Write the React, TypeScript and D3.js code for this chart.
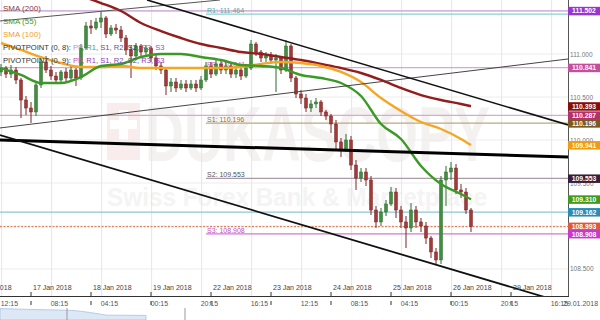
import React from 'react';
import * as d3 from 'd3';

// ---------- DATA ----------
// time unit: trading hours since 16 Jan 2018 00:00 (weekend removed)
const candleStartHour = 12;
const candleStepHours = 2;

const opens = [110.791,110.837,110.767,110.814,110.698,110.465,110.372,110.326,110.640,110.907,
110.814,110.744,110.698,110.791,110.721,110.814,110.721,111.070,111.326,111.302,
111.372,111.419,111.233,111.302,111.279,111.186,111.047,110.977,111.093,111.023,
111.070,110.954,110.861,110.814,110.628,110.674,110.605,110.651,110.605,110.651,
110.605,110.698,110.861,110.767,110.884,110.814,110.861,110.767,110.814,110.744,
110.837,111.116,111.023,110.954,110.977,110.930,110.954,110.814,111.093,110.721,
110.535,110.488,110.372,110.419,110.442,110.326,110.279,110.186,109.977,109.884,
110.000,109.709,109.558,109.628,109.535,109.186,109.047,109.163,109.256,109.395,
109.186,109.047,108.977,109.186,109.047,109.000,108.860,108.698,108.605,109.535,
109.628,109.674,109.419,109.395,109.186];
const highs = [110.884,110.861,110.872,110.849,110.721,110.512,110.442,110.674,110.954,110.977,
110.861,110.791,110.814,110.837,110.861,110.837,111.116,111.372,111.395,111.419,
111.488,111.442,111.337,111.349,111.326,111.221,111.093,111.128,111.116,111.105,
111.093,110.988,110.907,110.837,110.721,110.721,110.698,110.698,110.698,110.698,
110.744,110.907,110.907,110.930,110.930,110.907,110.907,110.861,110.861,110.884,
111.163,111.140,111.047,111.023,111.023,111.000,110.977,111.163,111.116,110.744,
110.581,110.535,110.465,110.488,110.465,110.349,110.302,110.233,110.023,110.070,
110.047,109.767,109.674,109.674,109.581,109.233,109.209,109.302,109.454,109.442,
109.233,109.116,109.267,109.233,109.093,109.047,108.884,108.744,109.581,109.698,
109.744,109.721,109.488,109.442,109.209];
const lows = [110.744,110.721,110.721,110.651,110.256,110.291,110.198,110.279,110.605,110.779,
110.698,110.651,110.674,110.674,110.698,110.628,110.698,111.047,111.233,111.279,
111.302,111.186,111.209,111.233,111.140,110.988,110.721,110.954,110.977,110.988,
110.907,110.814,110.767,110.523,110.558,110.558,110.581,110.558,110.581,110.558,
110.581,110.674,110.721,110.744,110.767,110.767,110.721,110.721,110.698,110.721,
110.814,110.977,110.907,110.907,110.884,110.558,110.767,110.791,110.674,110.488,
110.419,110.326,110.326,110.372,110.279,110.233,110.081,109.884,109.802,109.861,
109.651,109.419,109.512,109.465,109.128,108.977,109.000,109.116,109.233,109.093,
108.977,108.744,108.930,108.977,108.930,108.791,108.628,108.547,108.558,109.233,
109.535,109.372,109.326,109.140,108.930];
const closes = [110.837,110.767,110.814,110.698,110.465,110.372,110.326,110.640,110.907,110.814,
110.744,110.698,110.791,110.721,110.814,110.721,111.070,111.326,111.302,111.372,
111.419,111.233,111.302,111.279,111.186,111.047,110.977,111.093,111.023,111.070,
110.954,110.861,110.814,110.628,110.674,110.605,110.651,110.605,110.651,110.605,
110.698,110.861,110.767,110.884,110.814,110.861,110.767,110.814,110.744,110.837,
111.116,111.023,110.954,110.977,110.930,110.954,110.814,111.093,110.721,110.535,
110.488,110.372,110.419,110.442,110.326,110.279,110.186,109.977,109.884,110.000,
109.709,109.558,109.628,109.535,109.186,109.047,109.163,109.256,109.395,109.186,
109.047,108.977,109.186,109.047,109.000,108.860,108.698,108.605,109.535,109.628,
109.674,109.419,109.395,109.186,108.993];

const maHours = [12,20,28,36,44,52,60,68,76,84,92,100,108,116,124,132,140,148,156,164,172,180,188,196,200];
const sma55 = [110.837,110.756,110.663,110.663,110.733,110.861,110.884,110.965,111.000,111.000,
110.965,110.930,110.872,110.861,110.837,110.756,110.721,110.663,110.512,110.186,
110.012,109.698,109.488,109.372,109.310];
const sma100 = [111.128,111.047,110.965,110.895,110.849,110.849,110.861,110.837,110.837,110.837,
110.837,110.837,110.849,110.884,110.907,110.895,110.861,110.791,110.674,110.488,
110.337,110.209,110.128,110.012,109.941];
const sma200Hours = [44,52,60,68,76,84,92,100,108,116,124,132,140,148,156,164,172,180,188,196,200];
const sma200 = [111.675,111.593,111.500,111.361,111.267,111.186,111.116,111.070,111.023,111.000,
110.965,110.930,110.884,110.837,110.779,110.698,110.605,110.523,110.465,110.419,110.393];

// trend lines: [startHour, startPrice, endHour, endPrice]
const trendStartHours = [11.6, 11.6, 70.4, 11.6, 11.6];
const trendStartPrices = [110.140, 111.384, 111.628, 110.000, 110.058];
const trendEndHours = [238.8, 99.6, 238.8, 238.8, 238.8];
const trendEndPrices = [110.942, 111.628, 110.175, 109.802, 108.093];
const trendWidths = [1, 1, 1.6, 3, 1.8];
const trendColors = ['#444', '#555', '#111', '#000', '#111'];

// horizontal levels
const levelValues = [111.502, 111.464, 110.841, 110.287, 110.196, 109.553, 109.162, 108.993, 108.908];
const levelStartHours = [0, 94, 0, 0, 94, 94, 0, 0, 94];
const levelColors = ['#c9a0d6', '#8ccfcf', '#d2a8d8', '#d8aacb', '#bfa77f', '#aa9aa6', '#8fc6d4', '#e0805e', '#cf7ad0'];
const levelDashed = [false, false, false, false, false, false, false, true, false];

const pivotNames = ['R1', 'PP', 'S1', 'S2', 'S3'];
const pivotValues = [111.464, 110.841, 110.196, 109.553, 108.908];
const pivotColors = ['#5aaaa6', '#c46ac8', '#8a7040', '#555', '#c050c0'];
const pivotStartHour = 94;

// right-hand value badges
const badgeValues = [111.502, 110.841, 110.393, 110.287, 110.196, 109.941, 109.553, 109.310, 109.162, 108.993, 108.908];
const badgeColors = ['#9b34d3', '#c2509f', '#8b0a0a', '#b3306c', '#7a5a22', '#f29a12', '#3b1d3b', '#3f9a1f', '#2a8cb5', '#e0583a', '#c83acc'];

const priceTicks = [108.5, 109.0, 109.5, 110.0, 110.5, 111.0, 111.5];

const dateTickHours = [0, 24, 48, 72, 96, 120, 144, 168, 192, 216];
const dateTickLabels = ['16 Jan 2018', '17 Jan 2018', '18 Jan 2018', '19 Jan 2018', '22 Jan 2018', '23 Jan 2018', '24 Jan 2018', '25 Jan 2018', '26 Jan 2018', '29 Jan 2018'];
const timeTickHours = [12.25, 32.25, 52.25, 72.25, 92.25, 112.25, 132.25, 152.25, 172.25, 192.25, 212.25, 232.25];
const timeTickLabels = ['12:15', '08:15', '04:15', '00:15', '20:15', '16:15', '12:15', '08:15', '04:15', '00:15', '20:15', '16:15'];
const lastDateLabel = '29.01.2018';

const navHours = [11.6, 20, 30, 40, 50, 55, 60, 70];
const navLevels = [0.95, 0.9, 0.85, 0.8, 0.55, 0.4, 0.4, 0.38];

// ---------- CHART ----------
const W = 600, H = 320, PW = 568, PH = 296;
const FONT = 'Liberation Sans, Arial, sans-serif';

export default function App() {
  const x = d3.scaleLinear().domain([11.6, 238.8]).range([0, PW]);
  const y = d3.scaleLinear().domain([108.186, 111.628]).range([PH, 0]);

  const candles = closes.map((c, i) => ({
    h: candleStartHour + i * candleStepHours,
    o: opens[i], hi: highs[i], lo: lows[i], c,
  }));

  const maLine = d3.line<[number, number]>().x(d => x(d[0])).y(d => y(d[1])).curve(d3.curveMonotoneX);
  const s55 = maLine(maHours.map((h, i) => [h, sma55[i]]));
  const s100 = maLine(maHours.map((h, i) => [h, sma100[i]]));
  const s200 = maLine(sma200Hours.map((h, i) => [h, sma200[i]]));

  const navArea = d3.area<[number, number]>().x(d => x(d[0])).y0(320).y1(d => 320 - d[1] * 12).curve(d3.curveMonotoneX);

  const legendPivot = (label: string, colors: string[], yy: number) => {
    const names = ['PP', 'R1', 'S1', 'R2', 'S2', 'R3', 'S3'];
    return (
      <text x={3} y={yy} fontSize={7.6} fill="#333" fontFamily={FONT}>
        {label}
        {names.map((n, i) => (
          <React.Fragment key={n}>
            <tspan fill={colors[i]}>{n}</tspan>
            {i < names.length - 1 ? <tspan fill="#555">, </tspan> : null}
          </React.Fragment>
        ))}
      </text>
    );
  };

  return (
    <svg width={W} height={H} style={{ position: 'absolute', left: 0, top: 0, background: '#fff' }} fontFamily={FONT}>
      <defs>
        <clipPath id="plot"><rect x={0} y={0} width={PW} height={PH} /></clipPath>
      </defs>
      <rect x={0} y={0} width={W} height={H} fill="#fff" />

      {/* watermark */}
      <g opacity={0.4}>
        <rect x={107} y={103} width={33} height={57} fill="#f0d0d0" />
        <rect x={119} y={110} width={9} height={30} fill="#fff" />
        <rect x={110} y={120} width={27} height={9} fill="#fff" />
        <text x={145} y={161} fontSize={78} fontWeight="bold" fill="#e6dede" textLength={345} lengthAdjust="spacingAndGlyphs">DUKASCOPY</text>
        <text x={107} y={206} fontSize={26} fontWeight="bold" fill="#e8e4e4" textLength={380} lengthAdjust="spacingAndGlyphs">Swiss Forex Bank &amp; Marketplace</text>
      </g>

      {/* grid */}
      <g>
        {priceTicks.map(p => (
          <line key={p} x1={0} x2={PW} y1={y(p)} y2={y(p)} stroke="#ececec" strokeWidth={1} />
        ))}
        {timeTickHours.map(h => (
          <line key={h} x1={x(h)} x2={x(h)} y1={0} y2={PH} stroke="#e6e6e6" strokeWidth={1} />
        ))}
      </g>

      <g clipPath="url(#plot)">
        {/* level lines */}
        {levelValues.map((v, i) => (
          <line key={i} x1={levelStartHours[i] ? x(levelStartHours[i]) : 0} x2={PW} y1={y(v)} y2={y(v)}
            stroke={levelColors[i]} strokeWidth={1.2} strokeDasharray={levelDashed[i] ? '2,1.5' : undefined} />
        ))}
        {pivotNames.map((n, i) => (
          <text key={n} x={x(pivotStartHour) + 1} y={y(pivotValues[i]) - 1} fontSize={7} fill={pivotColors[i]}>
            {n}: {pivotValues[i].toFixed(3)}
          </text>
        ))}

        {/* candles */}
        {candles.map((d, i) => {
          const up = d.c >= d.o;
          const cx = x(d.h);
          const top = y(Math.max(d.o, d.c));
          const bot = y(Math.min(d.o, d.c));
          const col = up ? '#3f8f3f' : '#a23a3a';
          const edge = up ? '#2d6b2d' : '#7a2424';
          return (
            <g key={i}>
              <line x1={cx} x2={cx} y1={y(d.hi)} y2={y(d.lo)} stroke={edge} strokeWidth={1} />
              <rect x={cx - 1.5} y={top} width={3} height={Math.max(1, bot - top)} fill={col} stroke={edge} strokeWidth={0.5} />
            </g>
          );
        })}

        {/* moving averages */}
        <path d={s200 || ''} fill="none" stroke="#931c1c" strokeWidth={2.4} />
        <path d={s100 || ''} fill="none" stroke="#f5a623" strokeWidth={2.4} />
        <path d={s55 || ''} fill="none" stroke="#3a9a26" strokeWidth={2.4} />

        {/* trend lines */}
        {trendStartHours.map((h, i) => (
          <line key={i} x1={x(h)} y1={y(trendStartPrices[i])} x2={x(trendEndHours[i])} y2={y(trendEndPrices[i])}
            stroke={trendColors[i]} strokeWidth={trendWidths[i]} />
        ))}
      </g>

      {/* legend */}
      <text x={3} y={11} fontSize={8} fill="#8b3a3a">SMA (200)</text>
      <text x={3} y={24} fontSize={8} fill="#3a9a2a">SMA (55)</text>
      <text x={3} y={37} fontSize={8} fill="#f0a030">SMA (100)</text>
      {legendPivot('PIVOTPOINT (0, 8): ', ['#c48ad0', '#3aa08a', '#6a4a8a', '#5a5a9a', '#333', '#c050a0', '#a050c0'], 50)}
      {legendPivot('PIVOTPOINT (0, 9): ', ['#c050c0', '#9a40c0', '#9a40c0', '#7a50b0', '#555', '#a040c0', '#a040c0'], 63)}

      {/* axes frame */}
      <line x1={PW + 0.5} x2={PW + 0.5} y1={0} y2={PH} stroke="#555" strokeWidth={1} />
      <line x1={0} x2={PW + 1} y1={PH + 0.5} y2={PH + 0.5} stroke="#333" strokeWidth={1.2} />

      {/* price axis labels */}
      {priceTicks.map(p => (
        <text key={p} x={570} y={y(p) + 2.5} fontSize={6.5} fill="#777">{p.toFixed(3)}</text>
      ))}

      {/* badges */}
      {badgeValues.map((v, i) => (
        <g key={i}>
          <rect x={568} y={y(v) - 4} width={32} height={8.5} fill={badgeColors[i]} />
          <text x={584} y={y(v) + 2.6} fontSize={6.8} fill="#fff" textAnchor="middle" fontWeight="bold">{v.toFixed(3)}</text>
        </g>
      ))}

      {/* date ticks */}
      {dateTickHours.map((h, i) => (
        <g key={h}>
          <line x1={x(h)} x2={x(h)} y1={PH - 4} y2={PH} stroke="#333" />
          <line x1={x(h)} x2={x(h)} y1={PH + 5} y2={PH + 9} stroke="#333" />
          <text x={x(h) + 2} y={PH - 6} fontSize={7} fill="#444">{dateTickLabels[i]}</text>
        </g>
      ))}
      {timeTickHours.map((h, i) => (
        <text key={h} x={x(h) - 1} y={306} fontSize={7} fill="#555">{timeTickLabels[i]}</text>
      ))}
      <text x={563} y={306} fontSize={7} fill="#555">{lastDateLabel}</text>

      {/* navigator */}
      <path d={navArea(navHours.map((h, i) => [h, navLevels[i]])) || ''} fill="#dce8f6" stroke="#a9c2e0" strokeWidth={0.8} />
      <line x1={67} x2={67} y1={308} y2={320} stroke="#999" />
      <line x1={185} x2={185} y1={308} y2={320} stroke="#999" />
    </svg>
  );
}
